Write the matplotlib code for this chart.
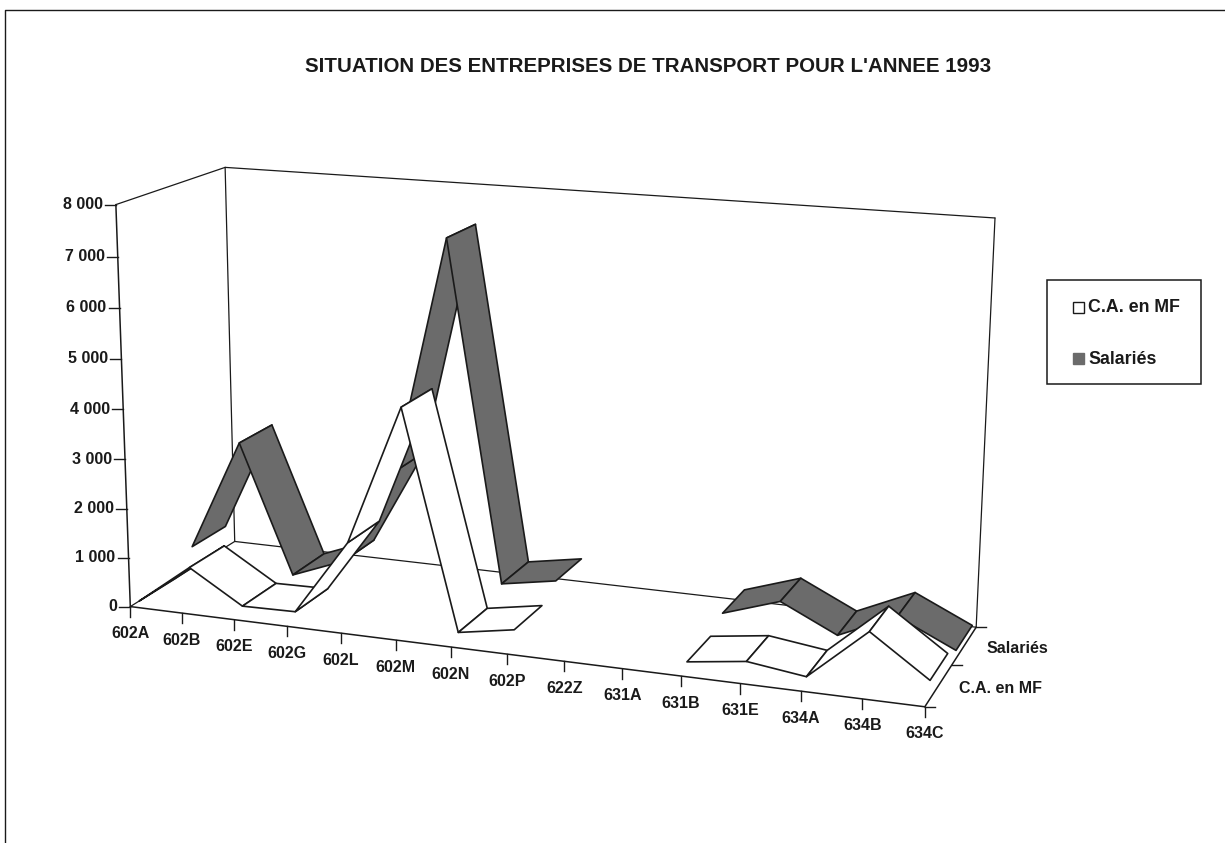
import numpy as np
import matplotlib
matplotlib.use('Agg')
import matplotlib.pyplot as plt
from matplotlib.patches import Polygon, Rectangle

plt.rcParams['font.family'] = ['Liberation Sans', 'DejaVu Sans']

categories = ['602A', '602B', '602E', '602G', '602L', '602M', '602N', '602P',
              '622Z', '631A', '631B', '631E', '634A', '634B', '634C']
ca_mf = [0, 820, 160, 180, 1700, 4470, 170, 360, np.nan, np.nan, 150, 300, 150, 1150, 370]
salaries = [450, 2760, 100, 520, 2500, 7270, 430, 620, np.nan, np.nan, 360, 730, 190, 700, 170]
value_ticks = [0, 1000, 2000, 3000, 4000, 5000, 6000, 7000, 8000]
value_labels = ['0', '1 000', '2 000', '3 000', '4 000', '5 000', '6 000', '7 000', '8 000']
series_names = ['C.A. en MF', 'Salariés']
title = "SITUATION DES ENTREPRISES DE TRANSPORT POUR L'ANNEE 1993"

GREY = '#6b6b6b'
INK = '#1a1a1a'

# box corners on the page, used to fit a perspective camera
# (category, depth, value) -> pixel
n = len(categories) - 1
corners = [
    ((0, 0, 0), (130, 606)), ((0, 0, 8000), (116, 205)),
    ((0, 1, 0), (235, 542)), ((0, 1, 8000), (225, 167)),
    ((n, 1, 0), (976, 627)), ((n, 1, 8000), (995, 218)),
    ((n, 0, 0), (925, 707)),
]
rows = []
rhs = []
for (x, y, z), (u, v) in corners:
    z = z / 8000
    rows.append([x, y, z, 1, 0, 0, 0, 0, -u * x, -u * y, -u * z])
    rhs.append(u)
    rows.append([0, 0, 0, 0, x, y, z, 1, -v * x, -v * y, -v * z])
    rhs.append(v)
cam = np.linalg.lstsq(np.array(rows, float), np.array(rhs, float), rcond=None)[0]
cam = np.append(cam, 1).reshape(3, 4)


def project(x, y, z):
    p = cam @ np.array([x, y, z / 8000, 1.0])
    return p[0] / p[2], p[1] / p[2]


fig = plt.figure(figsize=(12.25, 8.43), dpi=100)
ax = fig.add_axes([0, 0, 1, 1])
ax.set_xlim(0, 1225)
ax.set_ylim(843, 0)
ax.axis('off')

# page frame, only top and left show on the scan
ax.plot([5, 5, 1225], [843, 10, 10], color=INK, lw=1)

ax.text(648, 66, title, ha='center', va='center', fontsize=14.8, fontweight='bold', color=INK)


def edge(a, b, lw=0.9):
    p = project(*a)
    q = project(*b)
    ax.plot([p[0], q[0]], [p[1], q[1]], color=INK, lw=lw, solid_capstyle='round', zorder=2)


# walls and floor
edge((0, 0, 0), (0, 0, 8000), 1.1)
edge((0, 0, 8000), (0, 1, 8000))
edge((0, 1, 0), (0, 1, 8000))
edge((0, 1, 8000), (n, 1, 8000))
edge((n, 1, 0), (n, 1, 8000))
edge((0, 1, 0), (n, 1, 0))
edge((0, 0, 0), (0, 1, 0))
edge((0, 0, 0), (n, 0, 0), 1.1)
edge((n, 0, 0), (n, 1, 0), 1.1)

# value axis
for v, lab in zip(value_ticks, value_labels):
    px, py = project(0, 0, v)
    ax.plot([px - 11, px], [py, py], color=INK, lw=1, zorder=2)
    ax.text(px - 13, py, lab, ha='right', va='center', fontsize=11.5, fontweight='bold', color=INK)

# category axis
for i, lab in enumerate(categories):
    px, py = project(i, 0, 0)
    ax.plot([px, px], [py, py + 10], color=INK, lw=1, zorder=2)
    ax.text(px, py + 27, lab, ha='center', va='center', fontsize=11.5, fontweight='bold', color=INK)

# depth axis
for d in [0, 0.5, 1]:
    px, py = project(n, d, 0)
    ax.plot([px, px + 10], [py, py], color=INK, lw=1, zorder=2)
for d, lab in zip([0.25, 0.75], series_names):
    px, py = project(n, d, 0)
    ax.text(px + 53 if d > 0.5 else px + 62, py + 3, lab, ha='center', va='center',
            fontsize=11.5, fontweight='bold', color=INK)


def ribbon(values, d0, d1, face, z):
    for i in range(len(values) - 1):
        a, b = values[i], values[i + 1]
        if np.isnan(a) or np.isnan(b):
            continue
        pts = [project(i, d0, a), project(i, d1, a), project(i + 1, d1, b), project(i + 1, d0, b)]
        ax.add_patch(Polygon(pts, closed=True, facecolor=face, edgecolor=INK, lw=1.2,
                             joinstyle='round', zorder=z + i * 0.01))


ribbon(salaries, 0.58, 0.91, GREY, 3)
ribbon(ca_mf, 0.08, 0.41, 'white', 4)

# legend
ax.add_patch(Rectangle((1047, 280), 154, 104, facecolor='white', edgecolor=INK, lw=1.1, zorder=5))
ax.add_patch(Rectangle((1073, 302), 11, 11, facecolor='white', edgecolor=INK, lw=1, zorder=6))
ax.add_patch(Rectangle((1073, 353), 11, 11, facecolor=GREY, edgecolor=GREY, lw=1, zorder=6))
ax.text(1088, 308, series_names[0], va='center', fontsize=12.8, fontweight='bold', color=INK, zorder=6)
ax.text(1088, 359, series_names[1], va='center', fontsize=12.8, fontweight='bold', color=INK, zorder=6)

fig.savefig('out.png', dpi=100)
